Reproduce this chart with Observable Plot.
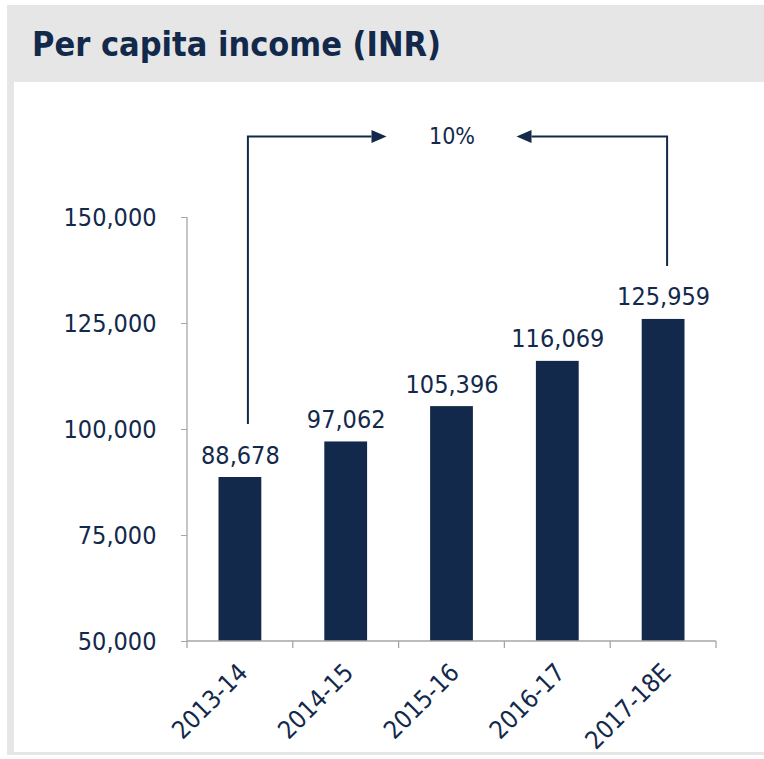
<!DOCTYPE html>
<html>
<head>
<meta charset="utf-8">
<script src="https://cdn.jsdelivr.net/npm/d3@7"></script>
<script src="https://cdn.jsdelivr.net/npm/@observablehq/plot@0.6"></script>
<style>
  html, body { margin: 0; padding: 0; background: #fff; }
  body { width: 764px; height: 759px; overflow: hidden; position: relative;
         font-family: "DejaVu Sans Condensed", "DejaVu Sans", sans-serif; font-stretch: condensed; }
  #frame { position: absolute; left: 7px; top: 5px; width: 757px; height: 750px; background: #e6e6e6; }
  #title { position: absolute; left: 32px; top: 27px; margin: 0; font-size: 34px; font-weight: bold;
           color: #13294b; line-height: 1; white-space: nowrap; }
  #panel { position: absolute; left: 14px; top: 82px; width: 750px; height: 670px; background: #fff; }
  #chart { position: absolute; left: 14px; top: 82px; }
</style>
</head>
<body>
<div id="frame"></div>
<div id="title">Per capita income (INR)</div>
<div id="panel"></div>
<div id="chart"></div>
<script>
const categories = ["2013-14", "2014-15", "2015-16", "2016-17", "2017-18E"];
const values = [88678, 97062, 105396, 116069, 125959];
const yTicks = [50000, 75000, 100000, 125000, 150000];
const cagrLabel = "10%";
const arrowLevel = 169000;
const labelClearance = 12500;

const navy = "#13294b";
const axisGrey = "#a6a6a6";
const fmt = d3.format(",");
const FONT = '"DejaVu Sans Condensed", "DejaVu Sans", sans-serif';

const data = categories.map((c, i) => ({c, v: values[i]}));

function annotations(index, scales, vals, dims) {
  const x = scales.x, y = scales.y;
  let bw = x.bandwidth;
  bw = typeof bw === "function" ? bw() : bw;
  let start = x(categories[0]);
  if (Math.abs(start - dims.marginLeft) > bw / 4) start -= bw / 2;
  const cx = c => start + categories.indexOf(c) * bw + bw / 2;
  const g = d3.create("svg:g");
  const x0 = start, x1 = start + categories.length * bw;
  const y0 = y(yTicks[0]);
  // axis lines
  g.append("line").attr("x1", x0).attr("x2", x0).attr("y1", y(yTicks[yTicks.length - 1])).attr("y2", y0)
    .attr("stroke", axisGrey).attr("stroke-width", 1.3);
  g.append("line").attr("x1", x0).attr("x2", x1).attr("y1", y0).attr("y2", y0)
    .attr("stroke", axisGrey).attr("stroke-width", 1.3);
  // band-edge ticks
  for (let i = 0; i <= categories.length; i++) {
    const xe = start + i * bw;
    g.append("line").attr("x1", xe).attr("x2", xe).attr("y1", y0).attr("y2", y0 + 7)
      .attr("stroke", axisGrey).attr("stroke-width", 1.3);
  }
  // CAGR arrows
  const first = categories[0], last = categories[categories.length - 1];
  const xa = cx(first) + 8, xb = cx(last) + 4;
  const mid = (cx(first) + cx(last)) / 2;
  const gap = 65, head = 15, hh = 6.5;
  const ya = y(arrowLevel);
  g.append("path")
    .attr("d", `M${xa},${y(values[0] + labelClearance)}V${ya}H${mid - gap - head}`)
    .attr("fill", "none").attr("stroke", navy).attr("stroke-width", 2);
  g.append("path")
    .attr("d", `M${mid - gap},${ya}L${mid - gap - head},${ya - hh}L${mid - gap - head},${ya + hh}Z`)
    .attr("fill", navy);
  g.append("path")
    .attr("d", `M${xb},${y(values[values.length - 1] + labelClearance)}V${ya}H${mid + gap + head}`)
    .attr("fill", "none").attr("stroke", navy).attr("stroke-width", 2);
  g.append("path")
    .attr("d", `M${mid + gap},${ya}L${mid + gap + head},${ya - hh}L${mid + gap + head},${ya + hh}Z`)
    .attr("fill", navy);
  return g.node();
}

const chart = Plot.plot({
  width: 750,
  height: 670,
  marginLeft: 173,
  marginRight: 48,
  marginTop: 135,
  marginBottom: 111,
  style: {background: "transparent", fontFamily: FONT, fontSize: "25px", color: navy, overflow: "visible"},
  x: {domain: categories, padding: 0, round: false, axis: null, label: null},
  y: {domain: [yTicks[0], yTicks[yTicks.length - 1]], axis: null, label: null},
  marks: [
    Plot.barY(data, {x: "c", y1: yTicks[0], y2: "v", fill: navy, insetLeft: 31.5, insetRight: 31.5}),
    Plot.axisY({ticks: yTicks, tickFormat: fmt, tickSize: 6, tickPadding: 25, stroke: axisGrey,
                fill: navy, fontSize: 25, label: null}),
    Plot.axisX({tickRotate: -45, tickSize: 0, tickPadding: 27, dx: 3, fill: navy, fontSize: 25, label: null}),
    Plot.text(data, {x: "c", y: "v", text: d => fmt(d.v), dy: -14, lineAnchor: "bottom",
                     fill: navy, fontSize: 25}),
    Plot.text([cagrLabel], {x: () => categories[2], y: () => arrowLevel, text: d => d,
                            lineAnchor: "middle", fill: navy, fontSize: 23}),
    annotations
  ]
});
document.getElementById("chart").appendChild(chart);
</script>
</body>
</html>
